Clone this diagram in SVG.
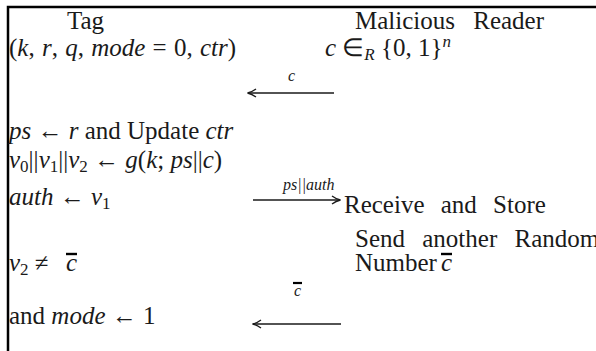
<svg xmlns="http://www.w3.org/2000/svg" width="596" height="351" viewBox="0 0 596 351">
<defs>
<marker id="ah" viewBox="0 0 10 10" refX="9" refY="5" markerWidth="10" markerHeight="10" markerUnits="userSpaceOnUse" orient="auto">
<path d="M1,1 Q5,4 9.5,5 Q5,6 1,9" fill="none" stroke="#1a1a1a" stroke-width="1.3"/>
</marker>
</defs>
<g id="frame">
<path d="M8,351 V7 H596" fill="none" stroke="#000" stroke-width="2.5"/>
</g>
<g id="tag" fill="#1a1a1a">
<text font-family="Liberation Serif" font-size="25" x="67" y="29">Tag</text>
<text font-family="Liberation Serif" font-size="25" x="9" y="56" word-spacing="1">(<tspan font-style="italic">k</tspan>, <tspan font-style="italic">r</tspan>, <tspan font-style="italic">q</tspan>, <tspan font-style="italic">mode</tspan> = 0, <tspan font-style="italic">ctr</tspan>)</text>
<text font-family="Liberation Serif" font-size="25" x="9" y="139"><tspan font-style="italic">ps</tspan> ← <tspan font-style="italic">r</tspan> and Update <tspan font-style="italic">ctr</tspan></text>
<text font-family="Liberation Serif" font-size="25" x="9" y="168"><tspan font-style="italic">ν</tspan><tspan font-size="17" dy="4">0</tspan><tspan dy="-4">||</tspan><tspan font-style="italic">ν</tspan><tspan font-size="17" dy="4">1</tspan><tspan dy="-4">||</tspan><tspan font-style="italic">ν</tspan><tspan font-size="17" dy="4">2</tspan><tspan dy="-4"> ← </tspan><tspan font-style="italic">g</tspan>(<tspan font-style="italic">k</tspan>; <tspan font-style="italic">ps</tspan>||<tspan font-style="italic">c</tspan>)</text>
<text font-family="Liberation Serif" font-size="25" x="9" y="205"><tspan font-style="italic">auth</tspan> ← <tspan font-style="italic">ν</tspan><tspan font-size="17" dy="4">1</tspan></text>
<text font-family="Liberation Serif" font-size="25" x="9" y="271"><tspan font-style="italic">ν</tspan><tspan font-size="17" dy="4">2</tspan><tspan dy="-4"> ≠</tspan></text>
<text font-family="Liberation Serif" font-size="25" font-style="italic" x="66" y="271">c</text>
<line x1="66" y1="254" x2="77" y2="254" stroke="#000" stroke-width="2.4"/>
<text font-family="Liberation Serif" font-size="25" x="9" y="324">and <tspan font-style="italic">mode</tspan> ← 1</text>
</g>
<g id="reader" fill="#1a1a1a">
<text font-family="Liberation Serif" font-size="25" x="355" y="29" word-spacing="12">Malicious Reader</text>
<text font-family="Liberation Serif" font-size="25" x="325" y="56"><tspan font-style="italic">c</tspan> ∈<tspan font-style="italic" font-size="17" dy="4">R</tspan><tspan dy="-4"> {0, 1}</tspan><tspan font-style="italic" font-size="17" dy="-9">n</tspan></text>
<text font-family="Liberation Serif" font-size="25" x="344" y="213" word-spacing="10">Receive and Store</text>
<text font-family="Liberation Serif" font-size="25" x="355" y="247" word-spacing="11">Send another Random</text>
<text font-family="Liberation Serif" font-size="25" x="355" y="271">Number</text>
<text font-family="Liberation Serif" font-size="25" font-style="italic" x="441" y="271">c</text>
<line x1="441" y1="254" x2="452" y2="254" stroke="#000" stroke-width="2.4"/>
</g>
<g id="connectors" stroke="#1a1a1a" stroke-width="1.3" fill="none">
<line x1="334" y1="93" x2="248" y2="93" marker-end="url(#ah)"/>
<line x1="253" y1="200" x2="340" y2="200" marker-end="url(#ah)"/>
<line x1="341" y1="324" x2="253" y2="324" marker-end="url(#ah)"/>
<line x1="293" y1="283" x2="302" y2="283" stroke="#000" stroke-width="2.2"/>
<text stroke="none" fill="#1a1a1a" font-family="Liberation Serif" font-size="16" font-style="italic" x="288" y="81">c</text>
<text stroke="none" fill="#1a1a1a" font-family="Liberation Serif" font-size="16" font-style="italic" x="283" y="190">ps||auth</text>
<text stroke="none" fill="#1a1a1a" font-family="Liberation Serif" font-size="16" font-style="italic" x="294" y="296">c</text>
</g>
</svg>
